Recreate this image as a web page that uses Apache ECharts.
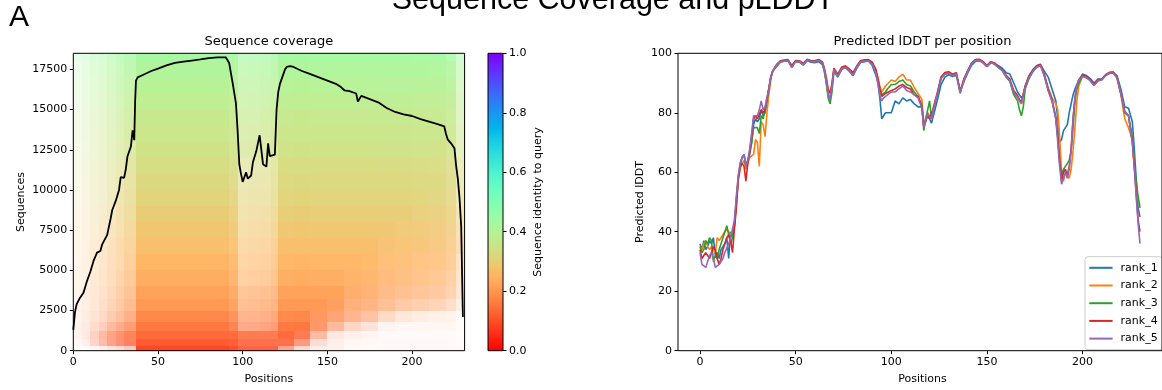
<!DOCTYPE html>
<html>
<head>
<meta charset="utf-8">
<script src="https://cdn.jsdelivr.net/npm/echarts@6/dist/echarts.min.js"></script>
<style>
  html, body { margin: 0; padding: 0; background: #fff; }
  #chart { width: 1162px; height: 390px; }
</style>
</head>
<body>
<div id="chart"></div>
<script>
// ---- sequence coverage heatmap (binned) ----
const colEdges = [0, 5, 10, 15, 20, 25, 30, 37, 92, 97, 103, 110, 117, 121, 130, 140, 150, 160, 170, 180, 190, 200, 210, 220, 226, 231];
const rowEdges = [0, 300, 700, 1200, 1800, 2500, 3200, 4000, 5000, 6000, 7000, 8000, 9000, 10000, 11000, 12000, 13000, 14000, 15000, 16000, 17000, 18000, 18500];
// sequence identity of each row band (bottom -> top)
const rowIdentity = [0.09, 0.11, 0.13, 0.15, 0.175, 0.20, 0.215, 0.235, 0.25, 0.265, 0.28, 0.295, 0.31, 0.32, 0.33, 0.345, 0.355, 0.365, 0.38, 0.395, 0.41, 0.43];
// % of rows without gap, one list per column band, row bands bottom -> top
const fillPct = [
  [2, 5, 8, 10, 10, 10, 12, 12, 13, 14, 15, 15, 16, 17, 18, 18, 19, 20, 20, 20, 22, 25],
  [3, 10, 15, 15, 15, 15, 17, 17, 18, 19, 20, 21, 22, 23, 24, 25, 26, 27, 28, 29, 30, 30],
  [5, 25, 30, 25, 22, 22, 24, 25, 26, 27, 28, 29, 30, 31, 32, 33, 34, 35, 36, 37, 38, 40],
  [10, 40, 45, 35, 30, 30, 30, 31, 32, 33, 34, 35, 36, 37, 38, 39, 40, 41, 42, 43, 44, 45],
  [15, 55, 60, 50, 42, 40, 40, 40, 41, 42, 43, 44, 45, 46, 47, 48, 49, 50, 51, 52, 53, 55],
  [20, 65, 70, 60, 52, 50, 50, 50, 51, 52, 53, 54, 55, 56, 57, 58, 59, 60, 61, 62, 63, 65],
  [30, 75, 80, 70, 65, 62, 62, 62, 63, 64, 65, 66, 67, 68, 69, 70, 71, 72, 73, 74, 75, 75],
  [100, 98, 97, 97, 97, 97, 97, 97, 97, 97, 97, 97, 97, 97, 97, 97, 97, 97, 97, 97, 97, 97],
  [95, 95, 95, 88, 88, 88, 88, 88, 88, 88, 88, 88, 88, 88, 88, 88, 88, 88, 88, 88, 88, 88],
  [85, 85, 85, 60, 60, 60, 60, 55, 55, 55, 55, 55, 55, 55, 55, 65, 65, 65, 65, 65, 65, 65],
  [85, 85, 85, 62, 62, 62, 62, 58, 58, 58, 58, 58, 58, 58, 58, 67, 67, 67, 67, 67, 67, 67],
  [85, 85, 85, 65, 65, 65, 65, 60, 60, 60, 60, 60, 60, 60, 60, 70, 70, 70, 70, 70, 70, 70],
  [85, 85, 85, 70, 70, 70, 70, 68, 68, 68, 68, 68, 68, 68, 68, 75, 75, 75, 75, 75, 75, 75],
  [50, 85, 96, 96, 96, 96, 96, 96, 96, 96, 96, 96, 96, 96, 96, 96, 96, 96, 96, 96, 96, 96],
  [20, 60, 85, 97, 97, 97, 97, 97, 97, 97, 97, 97, 97, 97, 97, 97, 97, 97, 97, 97, 97, 97],
  [10, 20, 45, 75, 85, 96, 96, 96, 96, 96, 96, 96, 96, 96, 96, 96, 96, 96, 96, 96, 96, 96],
  [8, 10, 15, 50, 75, 90, 96, 96, 96, 96, 96, 96, 96, 96, 96, 96, 96, 96, 96, 96, 96, 96],
  [4, 4, 10, 30, 60, 75, 85, 90, 96, 96, 96, 96, 96, 96, 96, 96, 96, 96, 96, 96, 96, 96],
  [4, 4, 6, 20, 50, 70, 80, 88, 92, 96, 96, 96, 96, 96, 96, 96, 96, 96, 96, 96, 96, 96],
  [4, 3, 3, 8, 30, 60, 70, 80, 85, 90, 95, 95, 95, 95, 95, 95, 95, 95, 95, 95, 95, 95],
  [4, 3, 3, 6, 20, 50, 65, 75, 82, 88, 90, 95, 95, 95, 95, 95, 95, 95, 95, 95, 95, 95],
  [4, 3, 3, 6, 15, 45, 60, 70, 78, 85, 88, 90, 94, 94, 94, 94, 94, 94, 94, 94, 94, 94],
  [4, 3, 3, 6, 12, 40, 55, 65, 75, 80, 85, 88, 90, 93, 93, 93, 93, 93, 93, 93, 93, 93],
  [4, 3, 3, 6, 10, 30, 45, 55, 65, 70, 75, 80, 80, 82, 82, 85, 85, 85, 87, 87, 85, 80],
  [3, 2, 2, 3, 3, 15, 25, 30, 35, 50, 50, 50, 50, 50, 50, 50, 50, 50, 50, 50, 50, 50]
];

// coverage line (non-gap count per position)
const covPos = [0, 1, 2, 4, 6, 8, 10, 12, 14, 16, 17, 18, 20, 22, 23, 25, 27, 28, 30, 31, 32, 34, 35, 36, 36.5, 37, 38, 42, 46, 50, 55, 60, 65, 70, 75, 80, 85, 90, 92, 94, 96, 97, 98, 99, 100, 101, 102, 103, 104, 105, 106, 107, 108, 110, 111, 112, 113, 114, 115, 116, 117, 119, 120, 121, 122, 123, 125, 126, 128, 130, 135, 140, 145, 150, 155, 158, 160, 163, 167, 168, 169, 170, 175, 180, 185, 190, 195, 200, 205, 210, 215, 219, 220, 221, 223, 225, 226, 227, 228, 229, 230];
const covVal = [1300, 2400, 2900, 3300, 3600, 4300, 4900, 5600, 6100, 6200, 6600, 6650, 7200, 8200, 8750, 9300, 10000, 10800, 10750, 11300, 12100, 12700, 13700, 13100, 15500, 16800, 17000, 17200, 17400, 17550, 17750, 17900, 17980, 18050, 18120, 18200, 18250, 18250, 17900, 16700, 15400, 13700, 11600, 11000, 10500, 10550, 11100, 10700, 10750, 10900, 11700, 11750, 12400, 13400, 13350, 11600, 11500, 11450, 12900, 12100, 12000, 12200, 15000, 16100, 16600, 16700, 17500, 17650, 17700, 17650, 17400, 17200, 17000, 16800, 16600, 16400, 16200, 16150, 16000, 15500, 15450, 15850, 15650, 15450, 15100, 14850, 14700, 14600, 14400, 14250, 14100, 13950, 13500, 13150, 12900, 12600, 11500, 10700, 9500, 7700, 2100];

// ---- predicted lDDT per position ----
const lddtPos = [0, 1, 2, 3, 4, 5, 6, 7, 8, 9, 10, 11, 12, 13, 14, 15, 16, 17,
  18, 19, 20, 21, 22, 23, 24, 25, 26, 27, 28, 29, 30, 31, 32, 33, 34, 35, 36, 37, 38,
  40, 42, 44, 46, 48, 50, 52, 54, 56, 58, 60, 62, 64,
  65, 66, 67, 68, 69, 70,
  72, 74, 76, 78, 80, 82, 84, 86, 88, 90, 92,
  93, 94, 95, 96, 97, 98,
  100, 102, 104, 106, 108, 110, 112, 114, 116,
  117, 118, 119, 120, 121, 122,
  124, 126, 128, 130, 132, 134, 136, 138, 140, 142, 144, 146, 148, 150, 152, 154, 156, 158, 160, 162, 164, 166,
  167, 168, 169, 170,
  172, 174, 176, 178, 180, 182, 184, 186,
  187, 188, 189, 190, 191, 192, 193, 194, 195, 196, 197, 198,
  200, 202, 204, 206, 208, 210, 212, 214, 216, 218, 220, 222, 224, 226,
  227, 228, 229, 230];
const rank1 = [36, 34, 37, 34, 35, 37, 36, 38, 32, 33, 31, 34, 35, 36, 38, 31, 40, 38,
  42, 50, 58, 62, 65, 66, 62, 64, 66, 70, 76, 78, 77, 78, 81, 79, 80, 84, 88, 92, 94,
  95.5, 97, 97.3, 97.5, 95.8, 97.2, 97, 96, 97.6, 97, 96.8, 97.2, 96.2,
  94, 90.5, 86, 84.5, 89, 94,
  92, 94.5, 95.2, 94, 92.5, 95, 97, 97.2, 97.4, 96, 92.5,
  90, 85, 78, 79, 80, 79.5,
  80, 84, 83, 85, 84, 84.5, 83, 82, 82,
  76, 77, 79, 78, 76.5, 79,
  84, 89.5, 92, 92.8, 92.2, 92.6, 87.5, 90.5, 93.5, 96, 97.3, 97.5, 96.8, 95.5, 96.8, 96.5, 95.8, 95, 93.5, 93, 90, 87,
  86, 85, 86, 89,
  92.5, 94.5, 95.8, 96.2, 94, 92, 88, 84,
  78, 70, 71, 74, 75, 76, 80, 83, 86, 88, 89.5, 91,
  93, 92.5, 91.5, 90, 91.3, 91.3, 92.6, 93.3, 93.4, 92.5, 88, 82, 81.5, 77,
  68, 58, 48, 45];
const rank2 = [35, 34, 36, 37, 35, 34, 35, 34, 33, 38, 37, 37, 39, 40, 41, 40, 39, 40,
  42, 49, 57, 61, 63, 64, 61, 63, 65, 65, 66, 71, 70, 62, 77, 76, 72, 80, 86, 91, 94,
  96, 97.3, 97.5, 97.6, 95.2, 97.4, 97.3, 96.4, 97.8, 97.4, 97.3, 97.6, 96.8,
  94.5, 91, 86.5, 85, 89.5, 94.5,
  92.5, 95, 95.5, 94.5, 93, 95.5, 97.3, 97.5, 97.6, 96.6, 93.8,
  92, 89, 87, 87, 89, 89,
  91, 90.5, 92, 93, 91, 91, 88.5, 86.5, 84.5,
  76, 78, 80, 79, 78, 82,
  86.5, 92, 93.3, 93.6, 92.8, 93.3, 87.2, 91.3, 94.2, 96.7, 97.8, 97.9, 97.1, 95.8, 97.1, 96.6, 95.4, 94.3, 92.3, 90.8, 86.5, 85,
  84, 83, 86, 88.5,
  92, 94, 95.5, 96, 93, 88.5, 85, 83,
  81, 72, 60, 57, 60, 60, 58, 61, 67, 75, 84, 89,
  92.5, 92, 91, 89.5, 91, 91.2, 92.8, 93.6, 93.7, 91.5, 86, 78, 75, 71,
  62, 55, 50, 49];
const rank3 = [35, 33, 34, 37, 36, 38, 37, 30, 32, 31, 34, 36, 38, 40, 42, 39, 36, 38,
  43, 51, 58, 63, 65, 66, 62, 64, 67, 70, 75, 75, 75, 73, 79, 78, 78, 84, 88, 92, 94,
  96, 97.2, 97.4, 97.5, 95.5, 97.3, 97.2, 96.2, 97.7, 97.3, 97.1, 97.5, 96.6,
  94, 90, 85, 83, 87, 94,
  92.3, 94.8, 95.3, 94.2, 92.8, 95.3, 97.1, 97.3, 97.5, 96.3, 93.2,
  91, 88, 86, 86, 87, 88,
  89.5, 89.5, 90.5, 91, 89.5, 89, 87, 85.5, 82.5,
  74, 78, 81, 84, 78, 81,
  86, 91.5, 93, 93.3, 92.5, 93, 86.5, 91, 94, 96.5, 97.6, 97.7, 96.9, 95.6, 96.9, 96.3, 95.2, 94.2, 92, 90.5, 86, 84,
  81, 79, 82, 88,
  91.5, 93.8, 95.3, 95.8, 92.5, 87.5, 84, 78,
  72, 63, 59, 61, 62, 63, 64, 67, 75, 84, 88, 90,
  92.3, 91.8, 90.8, 89.3, 90.8, 91, 92.6, 93.5, 93.7, 92, 87, 80, 79, 72,
  63, 57, 52, 48];
const rank4 = [34, 31, 32, 33, 32, 31, 33, 35, 34, 31, 29, 31, 34, 36, 38, 39, 37, 33,
  41, 48, 58, 62, 63, 62, 57, 63, 67, 72, 78, 79, 78, 78, 81, 80, 81, 85, 88, 92, 94,
  96.2, 97.5, 97.7, 97.9, 95.8, 97.6, 97.5, 96.6, 98, 97.6, 97.5, 97.9, 97.1,
  95, 92, 88, 86.5, 90, 95,
  93, 95.3, 95.8, 94.8, 93.5, 95.8, 97.6, 97.8, 97.9, 97, 94.5,
  91.5, 88, 85.5, 86, 86.5, 87,
  87.5, 88, 89, 89.5, 88.5, 88, 86, 85.5, 82,
  75, 77.5, 79.5, 78, 78, 81.5,
  86.5, 92, 93.5, 93.8, 93, 93.5, 87.2, 91.5, 94.3, 96.8, 97.9, 98, 97.2, 95.9, 97.2, 96.7, 95.6, 94.4, 92.6, 91.3, 87.5, 85.8,
  84.5, 83.5, 86.5, 89,
  92.3, 94.3, 95.8, 96.3, 92.8, 88, 84.5, 78.5,
  72, 64, 57, 60, 61, 59, 62, 68, 78, 85, 89, 91,
  92.7, 92.2, 91.2, 89.6, 91.2, 91.3, 92.7, 93.5, 93.6, 92, 86.5, 80.5, 79, 70,
  62, 53, 44, 40];
const rank5 = [33, 29, 29, 28, 30, 32, 33, 31, 28, 28, 29, 30, 31, 33, 33, 36, 38, 38,
  44, 52, 59, 63, 65, 66, 62, 64, 68, 73, 79, 79, 79, 81, 84, 81, 82, 85, 88, 92, 94,
  96, 97.3, 97.4, 97.6, 95.2, 97.3, 97.3, 96.2, 97.8, 97.3, 97.2, 97.6, 96.8,
  94.5, 91, 86, 84.5, 89, 94.5,
  92.3, 94.8, 95.3, 94.3, 92.7, 95.3, 97.2, 97.4, 97.5, 96.3, 93.3,
  90, 86, 84, 85, 85, 86,
  87, 87, 88, 89, 87.5, 87, 86, 85, 81.5,
  75, 77.5, 79.5, 79, 78, 81,
  86, 91.5, 93, 93.3, 92.5, 93, 86.8, 91, 94, 96.5, 97.6, 97.7, 96.9, 95.6, 96.9, 96.4, 95.3, 94.2, 92.3, 90.8, 86.8, 85.3,
  84, 83, 86, 88.5,
  91.8, 94, 95.4, 95.9, 92.3, 87.5, 84, 78,
  70, 62, 56, 58, 60, 58, 61, 67, 78, 85, 89, 91,
  92.3, 91.8, 90.8, 89.2, 90.8, 91, 92.5, 93.3, 93.4, 91.8, 86.5, 80.5, 79, 70,
  62, 52, 43, 36];
const rankNames = ['rank_1', 'rank_2', 'rank_3', 'rank_4', 'rank_5'];
const rankValues = [rank1, rank2, rank3, rank4, rank5];

// tick labels
const covXTicks = [0, 50, 100, 150, 200];
const covYTicks = [0, 2500, 5000, 7500, 10000, 12500, 15000, 17500];
const lddtXTicks = [0, 50, 100, 150, 200];

const rankColors = ['#1f77b4', '#ff7f0e', '#2ca02c', '#d62728', '#9467bd'];
const FONT = 'DejaVu Sans';
const INK = '#000';

// matplotlib "rainbow_r"
function rainbowR(v) {
  const x = 1 - v;
  return [
    Math.min(1, Math.abs(2 * x - 0.5)),
    Math.sin(Math.PI * x),
    Math.cos(Math.PI * x / 2)
  ].map(c => Math.max(0, Math.min(1, c)) * 255);
}
const rgb = c => 'rgb(' + c.map(Math.round).join(',') + ')';

const heatCells = [];
fillPct.forEach((col, ci) => {
  col.forEach((f, ri) => {
    heatCells.push([colEdges[ci], colEdges[ci + 1], rowEdges[ri], rowEdges[ri + 1], rowIdentity[ri], f]);
  });
});

const cbarStops = [];
for (let i = 0; i <= 20; i++) cbarStops.push({offset: i / 20, color: rgb(rainbowR(1 - i / 20))});

const tickLabel = {fontFamily: FONT, fontSize: 11, color: INK};
const tick = {show: true, length: 3.5, lineStyle: {color: INK, width: 1}};
const noLine = {show: false, onZero: false};

const chart = echarts.init(document.getElementById('chart'));
chart.setOption({
  animation: false,
  backgroundColor: '#fff',
  grid: [
    {left: 73.3, top: 53.3, width: 391.3, height: 297.4, show: true, z: 5,
      borderColor: INK, borderWidth: 1, backgroundColor: 'transparent'},
    {left: 488, top: 53.3, width: 15, height: 297.4, show: true, z: 5,
      borderColor: INK, borderWidth: 1, backgroundColor: 'transparent'},
    {left: 678, top: 53.3, width: 489, height: 297.4, show: true, z: 5,
      borderColor: INK, borderWidth: 1, backgroundColor: 'transparent'}
  ],
  xAxis: [
    {gridIndex: 0, type: 'value', min: 0, max: 231,
      axisLine: noLine, splitLine: {show: false},
      axisTick: Object.assign({customValues: covXTicks}, tick),
      axisLabel: Object.assign({customValues: covXTicks, margin: 6, formatter: v => String(v)}, tickLabel)},
    {gridIndex: 1, type: 'value', min: 0, max: 1, show: false},
    {gridIndex: 2, type: 'value', min: -11.5, max: 241.5,
      axisLine: noLine, splitLine: {show: false},
      axisTick: Object.assign({customValues: lddtXTicks}, tick),
      axisLabel: Object.assign({customValues: lddtXTicks, margin: 6, formatter: v => String(v)}, tickLabel)}
  ],
  yAxis: [
    {gridIndex: 0, type: 'value', min: 0, max: 18500,
      axisLine: noLine, splitLine: {show: false},
      axisTick: Object.assign({customValues: covYTicks}, tick),
      axisLabel: Object.assign({customValues: covYTicks, margin: 6, formatter: v => String(v)}, tickLabel)},
    {gridIndex: 1, type: 'value', min: 0, max: 1, interval: 0.2, position: 'right',
      axisLine: noLine, splitLine: {show: false}, axisTick: tick,
      axisLabel: Object.assign({margin: 6, formatter: v => v.toFixed(1)}, tickLabel)},
    {gridIndex: 2, type: 'value', min: 0, max: 100, interval: 20,
      axisLine: noLine, splitLine: {show: false}, axisTick: tick,
      axisLabel: Object.assign({margin: 6, formatter: v => String(v)}, tickLabel)}
  ],
  legend: {
    data: rankNames, orient: 'vertical', left: 1085, top: 256.7,
    padding: [5.6, 5, 5.6, 3.3], itemWidth: 23.3, itemHeight: 10, itemGap: 6.7,
    itemStyle: {opacity: 0},
    backgroundColor: 'rgba(255,255,255,0.8)', borderColor: '#cccccc', borderWidth: 1, borderRadius: 3,
    textStyle: {fontFamily: FONT, fontSize: 11, color: INK, padding: [0, 0, 0, 3]}
  },
  graphic: [
    {type: 'text', x: 9, y: 18, style: {text: 'A', font: '30px "Liberation Sans"', fill: INK, verticalAlign: 'middle'}},
    {type: 'text', x: 613, y: 1, style: {text: 'Sequence Coverage and pLDDT', font: '30.5px "Liberation Sans"', fill: INK, align: 'center', verticalAlign: 'middle'}},
    {type: 'text', x: 268.9, y: 42, style: {text: 'Sequence coverage', font: '13px "DejaVu Sans"', fill: INK, align: 'center', verticalAlign: 'middle'}},
    {type: 'text', x: 922.5, y: 42, style: {text: 'Predicted lDDT per position', font: '13px "DejaVu Sans"', fill: INK, align: 'center', verticalAlign: 'middle'}},
    {type: 'text', x: 268.9, y: 379, style: {text: 'Positions', font: '11px "DejaVu Sans"', fill: INK, align: 'center', verticalAlign: 'middle'}},
    {type: 'text', x: 922.5, y: 379, style: {text: 'Positions', font: '11px "DejaVu Sans"', fill: INK, align: 'center', verticalAlign: 'middle'}},
    {type: 'text', x: 21, y: 202, rotation: Math.PI / 2, style: {text: 'Sequences', font: '11px "DejaVu Sans"', fill: INK, align: 'center', verticalAlign: 'middle'}},
    {type: 'text', x: 640, y: 202, rotation: Math.PI / 2, style: {text: 'Predicted lDDT', font: '11px "DejaVu Sans"', fill: INK, align: 'center', verticalAlign: 'middle'}},
    {type: 'text', x: 538, y: 202, rotation: Math.PI / 2, style: {text: 'Sequence identity to query', font: '11px "DejaVu Sans"', fill: INK, align: 'center', verticalAlign: 'middle'}}
  ],
  series: [
    {
      type: 'custom', xAxisIndex: 0, yAxisIndex: 0, z: 1, silent: true,
      data: heatCells,
      encode: {x: [0, 1], y: [2, 3]},
      renderItem: (params, api) => {
        const a = api.coord([api.value(0), api.value(3)]);
        const b = api.coord([api.value(1), api.value(2)]);
        const x = Math.round(a[0]), y = Math.round(a[1]);
        const f = api.value(5) / 100;
        const c = rainbowR(api.value(4)).map(v => 255 - (255 - v) * f);
        return {type: 'rect', shape: {x: x, y: y, width: Math.round(b[0]) - x, height: Math.round(b[1]) - y},
          style: {fill: rgb(c)}};
      }
    },
    {
      type: 'line', xAxisIndex: 0, yAxisIndex: 0, z: 3, symbol: 'none', silent: true,
      data: covPos.map((p, i) => [p, covVal[i]]),
      lineStyle: {color: '#000', width: 1.8}
    },
    {
      type: 'custom', xAxisIndex: 1, yAxisIndex: 1, z: 1, silent: true,
      data: [[0, 1, 0, 1]],
      renderItem: (params, api) => {
        const a = api.coord([api.value(0), api.value(3)]);
        const b = api.coord([api.value(1), api.value(2)]);
        return {type: 'rect', shape: {x: a[0], y: a[1], width: b[0] - a[0], height: b[1] - a[1]},
          style: {fill: new echarts.graphic.LinearGradient(0, 0, 0, 1, cbarStops)}};
      }
    }
  ].concat(rankNames.map((name, k) => ({
    name: name, type: 'line', xAxisIndex: 2, yAxisIndex: 2, z: 3 + k,
    symbol: 'none', silent: true,
    data: lddtPos.map((p, i) => [p, rankValues[k][i]]),
    color: rankColors[k],
    lineStyle: {color: rankColors[k], width: 1.6}
  })))
});
</script>
</body>
</html>
